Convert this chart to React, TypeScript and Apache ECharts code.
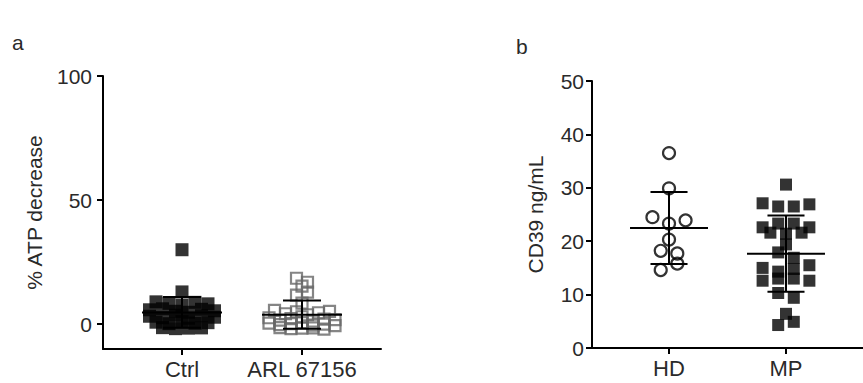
import React, { useEffect, useRef } from 'react';
import * as echarts from 'echarts';

// ---- data ----
const panelLabels = ['a', 'b'];
const categoriesA = ['Ctrl', 'ARL 67156'];
const categoriesB = ['HD', 'MP'];
const yTicksA = [0, 50, 100];
const yTicksB = [0, 10, 20, 30, 40, 50];
const yNameA = '% ATP decrease';
const yNameB = 'CD39 ng/mL';

// values in reading order (top to bottom, left to right)
const ctrlValues = [
  30, 13,
  9.0, 8.4, 7.6, 8.8, 8.2,
  5.8, 6.2, 5.2, 4.8, 6.0, 5.4,
  3.2, 2.6, 3.6, 2.4, 3.4, 2.8,
  0.8, 0.2, 1.0, 0.4, 0.6,
  -1.4, -1.8, -1.6, -1.5,
];
const arlValues = [
  18.5, 16.9, 15.3, 11.7, 12.9, 8.5,
  5.6, 4.2, 5.0, 3.8, 4.6, 5.2,
  2.6, 1.6, 2.2, 3.0, 1.2, 2.0, 1.8,
  0.4, -0.2, 0.2, 0.6, -0.4, 0.0, -0.6,
  -1.4, -1.8, -1.6, -1.5, -2.0,
];
const hdValues = [36.5, 29.9, 24.5, 23.3, 23.9, 20.3, 18.2, 17.7, 14.6, 15.8];
const mpValues = [
  30.6,
  27.1, 26.5, 26.5, 26.9,
  22.6, 23.3, 23.3, 22.6,
  21.6, 21.4, 21.6,
  19.4,
  17.9, 16.9,
  15.0, 14.3, 14.8, 15.5,
  12.6, 13.0, 13.0, 12.6,
  10.3, 9.4,
  6.4,
  4.3, 4.9,
];

// ---- helpers ----
const PX_PER_CAT = 120; // grid width 278 px spans 2.317 category units

function swarm(values: number[], cat: number, rowThreshold: number, spacingPx: number) {
  const idx = values.map((_, i) => i).sort((a, b) => values[b] - values[a] || a - b);
  const out: number[][] = [];
  let i = 0;
  const sp = spacingPx / PX_PER_CAT;
  while (i < idx.length) {
    const start = values[idx[i]];
    const row: number[] = [];
    while (i < idx.length && values[idx[i]] >= start - rowThreshold - 1e-9) {
      row.push(idx[i]);
      i++;
    }
    row.sort((a, b) => a - b);
    row.forEach((k, j) => out.push([cat + (j - (row.length - 1) / 2) * sp, values[k]]));
  }
  return out;
}

function meanSd(v: number[]) {
  const n = v.length;
  const m = v.reduce((a, b) => a + b, 0) / n;
  const sd = Math.sqrt(v.reduce((a, b) => a + (b - m) * (b - m), 0) / (n - 1));
  return [m, sd];
}

const FONT = 'Liberation Sans, Arial, Helvetica, sans-serif';
const TEXT = '#2a2a2a';

function errRender(params: any, api: any) {
  const x = api.value(0);
  const m = api.value(1);
  const sd = api.value(2);
  const hw = 40 / PX_PER_CAT;
  const cw = 19 / PX_PER_CAT;
  const c = (xx: number, yy: number) => api.coord([xx, yy]);
  const style = { stroke: '#000', lineWidth: 2 };
  const seg = (a: number[], b: number[]) => ({
    type: 'line',
    shape: { x1: a[0], y1: a[1], x2: b[0], y2: b[1] },
    style,
  });
  return {
    type: 'group',
    children: [
      seg(c(x - hw, m), c(x + hw, m)),
      seg(c(x, m - sd), c(x, m + sd)),
      seg(c(x - cw, m + sd), c(x + cw, m + sd)),
      seg(c(x - cw, m - sd), c(x + cw, m - sd)),
    ],
  };
}

function xAxisFor(gridIndex: number, cats: string[]) {
  return {
    type: 'value',
    gridIndex,
    min: 1 - 79 / PX_PER_CAT,
    max: 2 + 79 / PX_PER_CAT,
    axisLine: { show: true, onZero: false, lineStyle: { color: '#000', width: 2 } },
    axisTick: { show: true, customValues: [1, 2], length: 6, lineStyle: { color: '#000', width: 2 } },
    axisLabel: {
      customValues: [1, 2],
      formatter: (v: number) => cats[Math.round(v) - 1],
      fontSize: 22,
      color: TEXT,
      fontFamily: FONT,
      margin: 9,
    },
    splitLine: { show: false },
  };
}

function yAxisFor(gridIndex: number, min: number, max: number, ticks: number[], name: string, nameGap: number, margin: number) {
  return {
    type: 'value',
    gridIndex,
    min,
    max,
    name,
    nameLocation: 'middle',
    nameGap,
    nameTextStyle: { fontSize: 21, color: TEXT, fontFamily: FONT },
    axisLine: { show: true, onZero: false, lineStyle: { color: '#000', width: 2 } },
    axisTick: { show: true, customValues: ticks, length: 6, lineStyle: { color: '#000', width: 2 } },
    axisLabel: { customValues: ticks, fontSize: 21, color: TEXT, fontFamily: FONT, margin },
    splitLine: { show: false },
  };
}

export default function App() {
  const ref = useRef<HTMLDivElement>(null);
  useEffect(() => {
    document.body.style.margin = '0';
    if (!ref.current) return;
    const chart = echarts.init(ref.current, undefined, { renderer: 'svg' });
    const [ctrlM, ctrlS] = meanSd(ctrlValues);
    const [arlM, arlS] = meanSd(arlValues);
    const [hdM, hdS] = meanSd(hdValues);
    const [mpM, mpS] = meanSd(mpValues);
    chart.setOption({
      animation: false,
      backgroundColor: '#fff',
      graphic: [
        { type: 'text', left: 12, top: 32, style: { text: panelLabels[0], fontSize: 21, fill: TEXT, fontFamily: FONT } },
        { type: 'text', left: 516, top: 36, style: { text: panelLabels[1], fontSize: 21, fill: TEXT, fontFamily: FONT } },
      ],
      grid: [
        { left: 103, top: 76, width: 278, height: 273 },
        { left: 592, top: 81, width: 278, height: 267 },
      ],
      xAxis: [xAxisFor(0, categoriesA), xAxisFor(1, categoriesB)],
      yAxis: [
        yAxisFor(0, -10, 100, yTicksA, yNameA, 58, 11),
        yAxisFor(1, 0, 50, yTicksB, yNameB, 46, 8),
      ],
      series: [
        {
          type: 'scatter', xAxisIndex: 0, yAxisIndex: 0,
          data: swarm(ctrlValues, 1, 1.9, 13),
          symbol: 'rect', symbolSize: 13,
          itemStyle: { color: '#000' },
        },
        {
          type: 'scatter', xAxisIndex: 0, yAxisIndex: 0,
          data: swarm(arlValues, 2, 1.9, 11),
          symbol: 'rect', symbolSize: 11,
          itemStyle: { color: 'rgba(0,0,0,0)', borderColor: '#666', borderWidth: 2.2 },
        },
        {
          type: 'custom', xAxisIndex: 0, yAxisIndex: 0, clip: false, z: 5,
          renderItem: errRender,
          data: [[1, ctrlM, ctrlS], [2, arlM, arlS]],
        },
        {
          type: 'scatter', xAxisIndex: 1, yAxisIndex: 1,
          data: swarm(hdValues, 1, 1.3, 17),
          symbol: 'circle', symbolSize: 12,
          itemStyle: { color: 'rgba(0,0,0,0)', borderColor: '#000', borderWidth: 2.2 },
        },
        {
          type: 'scatter', xAxisIndex: 1, yAxisIndex: 1,
          data: swarm(mpValues, 2, 1.3, 16),
          symbol: 'rect', symbolSize: 12,
          itemStyle: { color: '#000' },
        },
        {
          type: 'custom', xAxisIndex: 1, yAxisIndex: 1, clip: false, z: 5,
          renderItem: errRender,
          data: [[1, hdM, hdS], [2, mpM, mpS]],
        },
      ],
    });
    return () => chart.dispose();
  }, []);
  return <div ref={ref} style={{ width: 863, height: 383 }} />;
}
